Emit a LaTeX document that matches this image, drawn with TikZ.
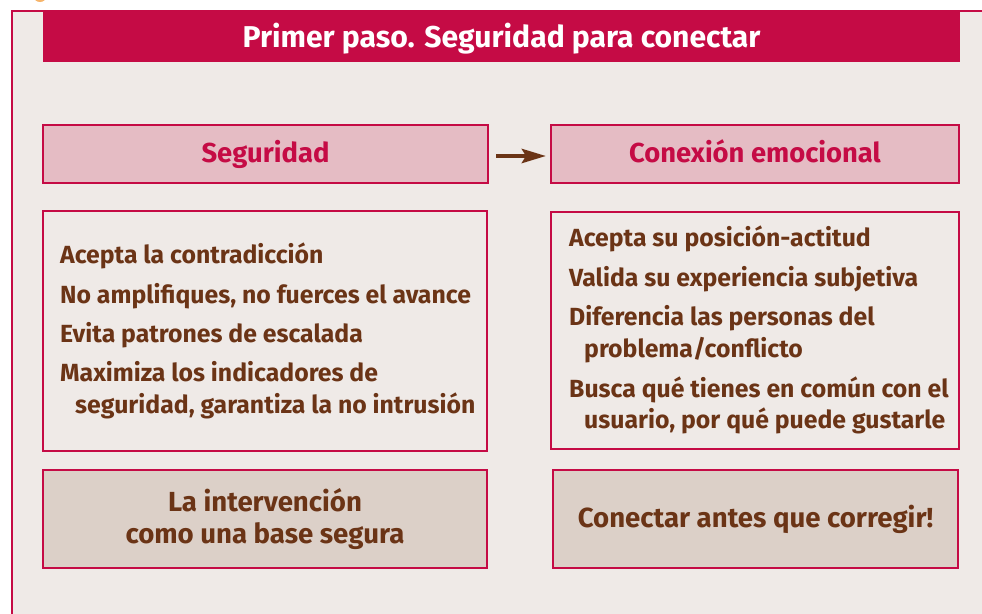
\documentclass[tikz,border=0pt]{standalone}
\usepackage{fontspec}
\setmainfont{Fira Sans}
\usetikzlibrary{arrows.meta,calc}
\definecolor{crim}{HTML}{C50B45}
\definecolor{pinkf}{HTML}{E5BCC4}
\definecolor{bgc}{HTML}{EFEAE7}
\definecolor{taupe}{HTML}{DCD0C8}
\definecolor{brn}{HTML}{6B3416}
\definecolor{orng}{HTML}{F6B46A}
\begin{document}
\begin{tikzpicture}[x=1pt,y=-1pt,
  box/.style={draw=crim, line width=2pt, anchor=north west, inner sep=0pt, outer sep=0pt},
  headbox/.style={box, fill=pinkf, minimum height=58pt, text=crim,
     font=\fontsize{27.4}{30}\selectfont\bfseries, text height=17pt, text depth=0pt},
  listbox/.style={box, fill=bgc},
  endbox/.style={box, fill=taupe, minimum height=98pt},
  item/.style={anchor=base west, inner sep=0pt, text=brn, font=\fontsize{24.8}{30}\selectfont\bfseries},
  endtxt/.style={anchor=base, inner sep=0pt, text=brn, font=\fontsize{27.6}{30}\selectfont\bfseries},
  link/.style={draw=brn, line width=4.5pt, -{Stealth[length=24pt,width=14pt,inset=4pt]}}
]
\useasboundingbox (0,0) rectangle (982,613);
\fill[white] (0,0) rectangle (982,613);
\fill[orng] (40,-3) ellipse (6 and 5);
\draw[crim, line width=2pt, fill=bgc] (11.5,10.5) rectangle (1000,640);

% title bar
\node[anchor=north west, fill=crim, inner sep=0pt, minimum width=917pt, minimum height=50pt] (bar) at (43,12) {};
\node[anchor=base, inner sep=0pt, text=white, font=\fontsize{30.1}{33}\selectfont\bfseries] (title) at (501.5,47) {Primer paso. Seguridad para conectar};

% headers
\node[headbox, minimum width=445pt] (seg) at (43,125) {Seguridad};
\node[headbox, minimum width=408pt] (con) at (551,125) {Conexión emocional};
\draw[link] ($(seg.east)+(8,2)$) -- ($(con.west)+(-5,2)$);

% list boxes
\node[listbox, minimum width=444pt, minimum height=240pt] (lbox) at (43,211) {};
\node[listbox, minimum width=408pt, minimum height=237pt] (rbox) at (551,212) {};

\node[item] (l1) at (60,263) {Acepta la contradicción};
\node[item] (l2) at (60,303) {No amplifiques, no fuerces el avance};
\node[item] (l3) at (60,342) {Evita patrones de escalada};
\node[item] (l4) at (60,381) {Maximiza los indicadores de};
\node[item] (l5) at (75,413) {seguridad, garantiza la no intrusión};

\node[item] (r1) at (569,246) {Acepta su posición-actitud};
\node[item] (r2) at (569,286) {Valida su experiencia subjetiva};
\node[item] (r3) at (569,325) {Diferencia las personas del};
\node[item] (r4) at (584,357) {problema/conflicto};
\node[item] (r5) at (569,397) {Busca qué tienes en común con el};
\node[item] (r6) at (584,428) {usuario, por qué puede gustarle};

% bottom boxes
\node[endbox, minimum width=444pt] (lend) at (43,470) {};
\node[endbox, minimum width=405pt] (rend) at (553,470) {};
\node[endtxt] (le1) at (265,511) {La intervención};
\node[endtxt] (le2) at (265,543) {como una base segura};
\node[endtxt] (re1) at (755.5,527) {Conectar antes que corregir!};
\end{tikzpicture}
\end{document}
